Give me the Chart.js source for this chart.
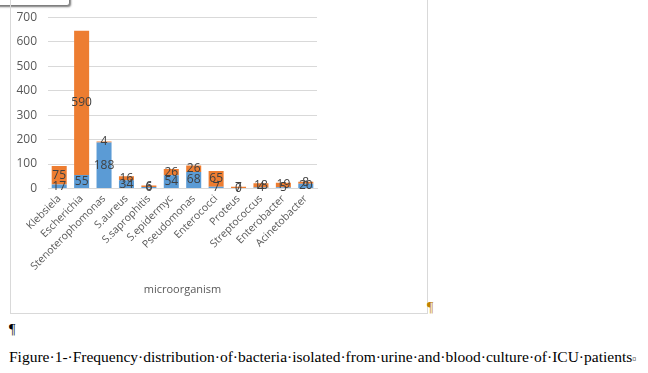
<!DOCTYPE html>
<html>
<head>
<meta charset="utf-8">
<script src="https://cdn.jsdelivr.net/npm/chart.js@4.4.1/dist/chart.umd.min.js"></script>
<style>
  body { margin: 0; background: #fff; width: 648px; height: 373px; overflow: hidden; position: relative; }
  .frame { position: absolute; left: 10px; top: -2px; width: 416px; height: 314px; border: 1px solid #d9d9d9; box-sizing: content-box; }
  .frame canvas { display: block; }
  .tab { position: absolute; left: -6px; top: -10px; width: 74px; height: 14px; border: 1px solid #7f7f7f; border-radius: 3px; background: #fff; box-shadow: 1px 1px 2px #777; }
  .pil { position: absolute; font-family: "Liberation Serif", serif; font-size: 14px; color: #000; }
  .caption { position: absolute; left: 9px; top: 348px; font-family: "Liberation Serif", serif; font-size: 15.5px; color: #000; white-space: nowrap; }
</style>
</head>
<body>
<div class="tab"></div>
<div class="frame"><canvas id="chart" width="416" height="314"></canvas></div>
<div class="pil" style="left:427px; top:300px; color:#c08000;">¶</div>
<div class="pil" style="left:9px; top:322px;">¶</div>
<div class="caption">Figure·1-·Frequency·distribution·of·bacteria·isolated·from·urine·and·blood·culture·of·ICU·patients<span style="font-size:8px">¤</span></div>
<script>
// 数据
const categories = ['Klebsiela', 'Escherichia', 'Stenoterophomonas', 'S.aureus', 'S.saprophitis',
    'S.epidermyc', 'Pseudomonas', 'Enterococci', 'Proteus', 'Streptococcus', 'Enterobacter', 'Acinetobacter'];
const blueValues = [17, 55, 188, 34, 6, 54, 68, 7, 0, 4, 5, 20];
const orangeValues = [75, 590, 4, 16, 6, 26, 26, 65, 7, 18, 19, 8];
const yTicks = [0, 100, 200, 300, 400, 500, 600, 700];

// 段内标签
const segmentLabels = {
    id: 'segmentLabels',
    afterDatasetsDraw(chart) {
        const ctx = chart.ctx;
        ctx.save();
        ctx.font = '12px "Open Sans", sans-serif';
        ctx.fillStyle = '#404040';
        ctx.textAlign = 'center';
        ctx.textBaseline = 'middle';
        chart.data.datasets.forEach((ds, i) => {
            chart.getDatasetMeta(i).data.forEach((bar, j) => {
                const mid = (bar.y + bar.base) / 2;
                ctx.fillText(ds.data[j], bar.x, mid);
            });
        });
        ctx.restore();
    }
};

new Chart(document.getElementById('chart'), {
    type: 'bar',
    data: {
        labels: categories,
        datasets: [
            { label: 'blood', data: blueValues, backgroundColor: '#5b9bd5', stack: 's' },
            { label: 'urine', data: orangeValues, backgroundColor: '#ed7d31', stack: 's' }
        ]
    },
    options: {
        responsive: false,
        animation: false,
        layout: { padding: { left: 5, right: 110, top: 12, bottom: 13 } },
        datasets: { bar: { categoryPercentage: 0.67, barPercentage: 1 } },
        scales: {
            x: {
                stacked: true,
                afterFit: scale => { scale.paddingLeft = 0; scale.paddingRight = 0; },
                grid: { display: false, drawTicks: false },
                border: { color: '#d9d9d9' },
                ticks: { color: '#595959', autoSkip: false, font: { size: 10.5, family: '"Open Sans", sans-serif' }, maxRotation: 45, minRotation: 45, padding: 4 },
                title: { display: true, text: 'microorganism', color: '#595959', font: { size: 11, family: '"Open Sans", sans-serif' }, padding: { top: 6 } }
            },
            y: {
                stacked: true,
                min: 0, max: 700,
                afterBuildTicks: axis => { axis.ticks = yTicks.map(v => ({ value: v })); },
                afterFit: scale => { scale.width = 32; },
                grid: { color: '#d9d9d9', drawTicks: false },
                border: { display: false },
                ticks: { color: '#595959', font: { size: 12, family: '"Open Sans", sans-serif' }, padding: 11 }
            }
        },
        plugins: { legend: { display: false }, tooltip: { enabled: false } }
    },
    plugins: [segmentLabels]
});
</script>
</body>
</html>
